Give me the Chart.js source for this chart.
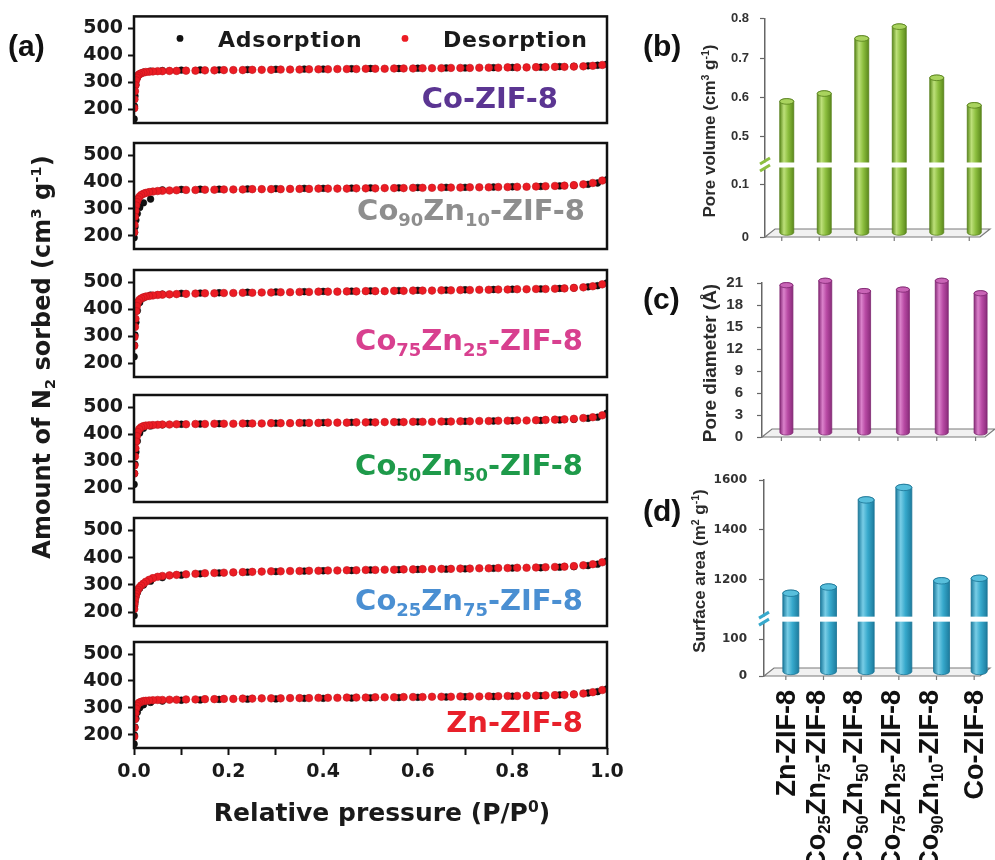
<!DOCTYPE html>
<html>
<head>
<meta charset="utf-8">
<script src="https://cdn.jsdelivr.net/npm/chart.js@4.4.1/dist/chart.umd.min.js"></script>
<style>
  html, body { margin: 0; padding: 0; background: #fff; }
  #wrap { position: relative; width: 995px; height: 860px; overflow: hidden; background: #fff; }
  #wrap canvas { position: absolute; left: 0; top: 0; }
</style>
</head>
<body>
<div id="wrap"></div>
<script>
const W = 995, H = 860;

// ---- isotherms: relative pressure grids ----
const pDes = [
  0.99, 0.97, 0.95, 0.93, 0.91, 0.89, 0.87, 0.85, 0.83, 0.81,
  0.79, 0.77, 0.75, 0.73, 0.71, 0.69, 0.67, 0.65, 0.63, 0.61,
  0.59, 0.57, 0.55, 0.53, 0.51, 0.49, 0.47, 0.45, 0.43, 0.41,
  0.39, 0.37, 0.35, 0.33, 0.31, 0.29, 0.27, 0.25, 0.23, 0.21,
  0.19, 0.17, 0.15, 0.13, 0.11, 0.09, 0.075, 0.06, 0.05, 0.04,
  0.032, 0.025, 0.02, 0.015, 0.011, 0.008, 0.006, 0.0045, 0.003, 0.002,
  0.001, 0.0005
];
const pAds = [
  0.0003, 0.001, 0.002, 0.004, 0.007, 0.012, 0.02, 0.035, 0.06, 0.1,
  0.14, 0.18, 0.24, 0.3, 0.36, 0.4, 0.46, 0.5, 0.56, 0.6,
  0.66, 0.7, 0.76, 0.8, 0.86, 0.9, 0.93, 0.96, 0.98, 1.0
];

// desorption branches (cm3/g), same order as pDes
const desCo = [
  365, 362, 360, 359, 358, 358, 357, 357, 356, 356,
  356, 355, 355, 355, 354, 354, 354, 353, 353, 353,
  352, 352, 352, 351, 351, 351, 350, 350, 350, 349,
  349, 349, 348, 348, 348, 347, 347, 347, 346, 346,
  346, 345, 345, 344, 344, 343, 343, 342, 342, 341,
  340, 339, 337, 334, 330, 325, 318, 308, 290, 268,
  238, 205
];
const desCo90 = [
  405, 396, 391, 388, 386, 385, 384, 383, 382, 382,
  381, 381, 380, 380, 380, 379, 379, 379, 378, 378,
  378, 377, 377, 377, 376, 376, 376, 375, 375, 375,
  375, 374, 374, 374, 373, 373, 373, 373, 372, 372,
  372, 371, 371, 370, 370, 369, 368, 367, 366, 364,
  362, 359, 356, 351, 344, 335, 325, 312, 292, 270,
  240, 212
];
const desCo75 = [
  492, 485, 481, 479, 477, 476, 475, 475, 474, 474,
  473, 473, 472, 472, 471, 471, 470, 470, 469, 469,
  469, 468, 468, 467, 467, 467, 466, 466, 465, 465,
  465, 464, 464, 463, 463, 462, 462, 461, 461, 460,
  460, 459, 459, 458, 457, 456, 455, 454, 453, 451,
  449, 447, 444, 440, 434, 425, 412, 393, 365, 335,
  298, 265
];
const desCo50 = [
  470, 463, 460, 457, 455, 454, 453, 452, 451, 451,
  450, 450, 449, 449, 448, 448, 447, 447, 446, 446,
  446, 445, 445, 445, 444, 444, 444, 443, 443, 443,
  442, 442, 442, 441, 441, 441, 440, 440, 440, 439,
  439, 439, 438, 438, 437, 437, 436, 436, 435, 434,
  433, 432, 430, 426, 419, 408, 393, 373, 348, 318,
  285, 255
];
const desCo25 = [
  383, 376, 372, 369, 367, 366, 365, 364, 363, 363,
  362, 362, 361, 361, 360, 360, 359, 359, 358, 358,
  357, 357, 356, 356, 355, 355, 354, 354, 353, 353,
  352, 352, 351, 351, 350, 350, 349, 348, 347, 346,
  345, 344, 343, 341, 339, 337, 335, 333, 330, 325,
  319, 312, 305, 298, 290, 282, 275, 267, 257, 246,
  230, 212
];
const desZn = [
  366, 358, 353, 350, 348, 347, 346, 345, 345, 344,
  344, 343, 343, 342, 342, 342, 341, 341, 341, 340,
  340, 340, 339, 339, 339, 338, 338, 338, 337, 337,
  337, 336, 336, 336, 335, 335, 335, 334, 334, 333,
  333, 332, 332, 331, 331, 330, 330, 329, 329, 328,
  327, 326, 325, 322, 319, 314, 307, 297, 280, 257,
  225, 192
];

// adsorption branches, same order as pAds
const adsCo = [
  165, 212, 250, 292, 318, 332, 338, 342, 344, 346,
  347, 347, 348, 349, 350, 350, 351, 352, 352, 353,
  354, 354, 355, 356, 357, 359, 360, 362, 364, 368
];
const adsCo90 = [
  192, 212, 232, 258, 282, 305, 322, 336, 370, 372,
  373, 373, 374, 375, 376, 376, 377, 378, 378, 379,
  380, 380, 381, 382, 383, 385, 387, 391, 396, 408
];
const adsCo75 = [
  225, 268, 305, 352, 395, 425, 442, 452, 456, 459,
  460, 461, 463, 464, 465, 466, 467, 468, 469, 470,
  471, 472, 473, 474, 475, 477, 479, 483, 487, 497
];
const adsCo50 = [
  215, 255, 290, 335, 375, 405, 422, 431, 435, 437,
  438, 439, 440, 441, 442, 443, 444, 445, 445, 446,
  447, 448, 449, 450, 451, 453, 455, 459, 463, 478
];
const adsCo25 = [
  188, 222, 238, 256, 272, 288, 300, 314, 327, 336,
  341, 344, 347, 349, 351, 352, 353, 355, 356, 357,
  358, 359, 361, 362, 363, 365, 367, 371, 376, 388
];
const adsZn = [
  165, 198, 228, 260, 283, 300, 311, 320, 325, 328,
  329, 331, 332, 333, 335, 335, 336, 337, 338, 339,
  340, 341, 342, 343, 345, 348, 350, 355, 360, 370
];

const sampleNames = ['Co-ZIF-8', 'Co90Zn10-ZIF-8', 'Co75Zn25-ZIF-8', 'Co50Zn50-ZIF-8', 'Co25Zn75-ZIF-8', 'Zn-ZIF-8'];
const isoDes = [desCo, desCo90, desCo75, desCo50, desCo25, desZn];
const isoAds = [adsCo, adsCo90, adsCo75, adsCo50, adsCo25, adsZn];
const isoYTicks = [200, 300, 400, 500];
const isoXTicks = [0, 0.1, 0.2, 0.3, 0.4, 0.5, 0.6, 0.7, 0.8, 0.9, 1.0];

// ---- textural properties ----
const categories = ['Zn-ZIF-8', 'Co25Zn75-ZIF-8', 'Co50Zn50-ZIF-8', 'Co75Zn25-ZIF-8', 'Co90Zn10-ZIF-8', 'Co-ZIF-8'];
const poreVolume = [0.59, 0.61, 0.75, 0.78, 0.65, 0.58];
const poreDiameter = [20.7, 21.3, 19.9, 20.1, 21.3, 19.6];
const surfaceArea = [1145, 1170, 1520, 1570, 1195, 1205];
const volumeTicks = [0, 0.1, 0.5, 0.6, 0.7, 0.8];
const diameterTicks = [0, 3, 6, 9, 12, 15, 18, 21];
const areaTicks = [0, 100, 1200, 1400, 1600];

// ---- look ----
const DEJAVU = '"DejaVu Sans"';
const ARIAL = '"Liberation Sans"';
const RED = '#ec1c24';
const labelColors = ['#5b3592', '#8e8e8e', '#d8408f', '#1e9a4a', '#4a8fd2', '#e8202a'];
const boxes = [[15, 123], [143, 249], [270, 377], [395, 502], [518, 626], [642, 748]];
const labelSpots = [[49, 15], [22, 29], [24, 27], [24, 27], [24, 16], [24, 16]]; // [from right, above bottom]
const BOX_L = 134, BOX_R = 607, Y_AXIS_W = 60, X_AXIS_H = 40;

Chart.defaults.animation = false;
Chart.defaults.responsive = false;
Chart.defaults.devicePixelRatio = 1;
Chart.defaults.events = [];
Chart.defaults.plugins.legend.display = false;
Chart.defaults.plugins.tooltip.enabled = false;

const wrap = document.getElementById('wrap');
function makeCanvas(id) {
  const c = document.createElement('canvas');
  c.id = id; c.width = W; c.height = H;
  wrap.appendChild(c);
  return c;
}

// "Co90Zn10-ZIF-8" -> Co, 90(sub), Zn, 10(sub), -ZIF-8
function chem(s) {
  const parts = [];
  s.split(/(?<=[A-Za-z])(\d+)/).forEach((t, i) => { if (t) parts.push([t, i % 2 ? 'sub' : null]); });
  return parts;
}

// text with sub/superscripts, y is the baseline
function drawRich(ctx, parts, x, y, o) {
  const font = s => `${o.weight || 'normal'} ${s}px ${o.family}`;
  ctx.save();
  ctx.translate(x, y);
  if (o.rotate) ctx.rotate(o.rotate);
  ctx.fillStyle = o.color || '#111';
  ctx.textBaseline = 'alphabetic';
  ctx.textAlign = 'left';
  ctx.letterSpacing = (o.spacing || 0) + 'px';
  const runs = parts.map(([t, k]) => {
    const size = k ? o.size * 0.62 : o.size;
    ctx.font = font(size);
    return { t, size, dy: k === 'sub' ? o.size * 0.2 : k === 'sup' ? -o.size * 0.38 : 0, w: ctx.measureText(t).width };
  });
  const total = runs.reduce((s, r) => s + r.w, 0);
  let cx = o.align === 'right' ? -total : o.align === 'center' ? -total / 2 : 0;
  runs.forEach(r => { ctx.font = font(r.size); ctx.fillText(r.t, cx, r.dy); cx += r.w; });
  ctx.restore();
}

// box, sample name and (top box only) the legend
const framePlugin = {
  id: 'frame',
  afterDraw(chart, args, o) {
    const { ctx, chartArea: a } = chart;
    ctx.save();
    ctx.lineWidth = 2.5;
    ctx.strokeStyle = '#111';
    ctx.strokeRect(a.left, a.top, a.right - a.left, a.bottom - a.top);
    ctx.restore();
    drawRich(ctx, chem(o.name), a.right - o.spot[0], a.bottom - o.spot[1],
      { size: 29, family: DEJAVU, weight: 'bold', color: o.color, align: 'right' });
    if (o.legend) {
      const items = [['Adsorption', '#111', 46], ['Desorption', RED, 271]];
      items.forEach(([text, color, dx]) => {
        ctx.save();
        ctx.fillStyle = color;
        ctx.beginPath();
        ctx.arc(a.left + dx, a.top + 22, 3.4, 0, Math.PI * 2);
        ctx.fill();
        ctx.restore();
        drawRich(ctx, [[text]], a.left + dx + 38, a.top + 31,
          { size: 22, family: DEJAVU, weight: 'bold', color: '#1a1a1a', spacing: 0.8 });
      });
    }
  }
};

// shared titles of panel (a)
const isoTitlesPlugin = {
  id: 'isoTitles',
  afterDraw(chart) {
    const ctx = chart.ctx;
    drawRich(ctx, [['(a)']], 8, 56, { size: 30, family: ARIAL, weight: 'bold', color: '#111' });
    drawRich(ctx, [['Amount of N'], ['2', 'sub'], [' sorbed (cm'], ['3', 'sup'], [' g'], ['-1', 'sup'], [')']],
      50, 357, { size: 24, family: DEJAVU, weight: 'bold', color: '#1a1a1a', align: 'center', rotate: -Math.PI / 2 });
    drawRich(ctx, [['Relative pressure (P/P'], ['0', 'sup'], [')']],
      382, 821, { size: 25, family: DEJAVU, weight: 'bold', color: '#1a1a1a', align: 'center' });
  }
};

sampleNames.forEach((name, i) => {
  const last = i === sampleNames.length - 1;
  const [top, bottom] = boxes[i];
  new Chart(makeCanvas('iso' + i), {
    type: 'scatter',
    data: {
      datasets: [
        {
          label: 'Desorption', order: 0,
          data: pDes.map((p, j) => ({ x: p, y: isoDes[i][j] })),
          pointRadius: 3.8, backgroundColor: RED, borderColor: '#c0161c', borderWidth: 0.6
        },
        {
          label: 'Adsorption', order: 1,
          data: pAds.map((p, j) => ({ x: p, y: isoAds[i][j] })),
          pointRadius: 3.4, backgroundColor: '#111', borderColor: '#000', borderWidth: 0.5
        }
      ]
    },
    options: {
      layout: { padding: { left: BOX_L - Y_AXIS_W, right: W - BOX_R, top: top, bottom: H - bottom - (last ? X_AXIS_H : 0) } },
      scales: {
        x: {
          type: 'linear', min: 0, max: 1, display: last,
          afterFit: last ? s => { s.height = X_AXIS_H; } : undefined,
          afterBuildTicks: s => { s.ticks = isoXTicks.map(v => ({ value: v })); },
          ticks: {
            autoSkip: false, maxRotation: 0, padding: 6, color: '#1a1a1a',
            font: { family: DEJAVU, size: 19, weight: 'bold' },
            callback: (v, idx) => idx % 2 ? '' : v.toFixed(1)
          },
          grid: { drawOnChartArea: false, tickLength: 7, tickWidth: 2, tickColor: '#111' },
          border: { display: false }
        },
        y: {
          min: 150, max: 545,
          afterFit: s => { s.width = Y_AXIS_W; },
          afterBuildTicks: s => { s.ticks = isoYTicks.map(v => ({ value: v })); },
          ticks: { padding: 5, color: '#1a1a1a', font: { family: DEJAVU, size: 19, weight: 'bold' } },
          grid: { drawOnChartArea: false, tickLength: 6, tickWidth: 2, tickColor: '#111' },
          border: { display: false }
        }
      },
      plugins: {
        frame: { name, color: labelColors[i], spot: labelSpots[i], legend: i === 0 }
      }
    },
    plugins: last ? [framePlugin, isoTitlesPlugin] : [framePlugin]
  });
});

// linear axis cut between lowTop and highBottom; values above `split`
// follow the upper segment, values below it the lower one
class BrokenLinearScale extends Chart.LinearScale {
  static id = 'brokenLinear';
  getPixelForValue(value) {
    const { lowTop, highBottom, lowFrac, highFrac, split } = this.options;
    if (lowTop === undefined || value === null) return super.getPixelForValue(value);
    const f = value < split
      ? value / lowTop * lowFrac
      : highFrac + (value - highBottom) / (this.max - highBottom) * (1 - highFrac);
    return this.getPixelForDecimal(f);
  }
}
Chart.register(BrokenLinearScale);

const FLOOR_DX = 10, FLOOR_DY = 8;

function drawCylinder(ctx, cx, top, bottom, w, c) {
  const rx = w / 2, ry = Math.max(2.5, w * 0.2);
  const g = ctx.createLinearGradient(cx - rx, 0, cx + rx, 0);
  g.addColorStop(0, c.dark);
  g.addColorStop(0.3, c.light);
  g.addColorStop(0.6, c.mid);
  g.addColorStop(1, c.dark);
  ctx.save();
  ctx.fillStyle = g;
  ctx.strokeStyle = c.edge;
  ctx.lineWidth = 0.8;
  ctx.beginPath();
  ctx.moveTo(cx - rx, top);
  ctx.lineTo(cx - rx, bottom);
  ctx.ellipse(cx, bottom, rx, ry, 0, Math.PI, 0, true);
  ctx.lineTo(cx + rx, top);
  ctx.ellipse(cx, top, rx, ry, 0, 0, Math.PI, true);
  ctx.closePath();
  ctx.fill();
  ctx.stroke();
  ctx.beginPath();
  ctx.ellipse(cx, top, rx, ry, 0, 0, Math.PI * 2);
  ctx.fillStyle = c.top;
  ctx.fill();
  ctx.stroke();
  ctx.restore();
}

const cylinderPlugin = {
  id: 'cylinders',
  beforeDatasetsDraw(chart, args, o) {
    const { ctx, chartArea: a } = chart;
    const y0 = chart.scales.y.getPixelForValue(0);
    ctx.save();
    ctx.beginPath();
    ctx.moveTo(a.left, y0);
    ctx.lineTo(a.right - FLOOR_DX, y0);
    ctx.lineTo(a.right, y0 - FLOOR_DY);
    ctx.lineTo(a.left + FLOOR_DX, y0 - FLOOR_DY);
    ctx.closePath();
    ctx.fillStyle = '#f1f1f1';
    ctx.fill();
    ctx.strokeStyle = '#7a7a7a';
    ctx.lineWidth = 1.2;
    ctx.stroke();
    ctx.beginPath();
    chart.getDatasetMeta(0).data.forEach(el => {
      const tx = el.x + o.shift - FLOOR_DX / 2;
      ctx.moveTo(tx, y0);
      ctx.lineTo(tx, y0 + 4);
    });
    ctx.stroke();
    ctx.restore();
  },
  afterDatasetsDraw(chart, args, o) {
    const { ctx, chartArea: a } = chart;
    chart.getDatasetMeta(0).data.forEach(el => {
      drawCylinder(ctx, el.x + o.shift, el.y, el.base - FLOOR_DY / 2, el.width, o.colors);
    });
    if (o.breakFrac !== undefined) {
      const by = a.bottom - o.breakFrac * (a.bottom - a.top);
      ctx.save();
      ctx.fillStyle = '#fff';
      ctx.fillRect(a.left - 3, by - 2.5, a.right - a.left + 6, 5);
      ctx.strokeStyle = o.colors.mid;
      ctx.lineWidth = 3;
      ctx.beginPath();
      ctx.moveTo(a.left - 5, by - 1); ctx.lineTo(a.left + 5, by - 7);
      ctx.moveTo(a.left - 5, by + 6); ctx.lineTo(a.left + 5, by);
      ctx.stroke();
      ctx.restore();
    }
  },
  afterDraw(chart, args, o) {
    const ctx = chart.ctx;
    drawRich(ctx, [[o.panel]], 643, o.panelY, { size: 30, family: ARIAL, weight: 'bold', color: '#111' });
    drawRich(ctx, o.title, o.titleX, o.titleY,
      { size: o.titleSize, family: ARIAL, weight: 'bold', color: '#2a2a2a', align: 'center', rotate: -Math.PI / 2 });
    if (o.categoryLabels) {
      chart.getDatasetMeta(0).data.forEach((el, i) => {
        const parts = chem(categories[i]);
        const tick = el.x + o.shift - FLOOR_DX / 2;
        const tx = tick + 10 - (parts.length > 1 ? 9 : 1);
        drawRich(ctx, parts, tx, 690, { size: 27, family: ARIAL, weight: 'bold', color: '#111', align: 'right', rotate: -Math.PI / 2 });
      });
    }
  }
};

function barChart(id, values, o) {
  new Chart(makeCanvas(id), {
    type: 'bar',
    data: {
      labels: categories,
      datasets: [{ data: values, backgroundColor: 'rgba(0,0,0,0)', borderWidth: 0, barThickness: o.barW }]
    },
    options: {
      layout: { padding: { left: o.left - 60, right: W - o.right, top: o.top, bottom: H - o.bottom } },
      scales: {
        x: { display: false },
        y: Object.assign({
          type: 'brokenLinear', min: 0, max: o.max,
          afterFit: s => { s.width = 60; },
          afterBuildTicks: s => { s.ticks = o.ticks.map(v => ({ value: v })); },
          ticks: { padding: o.tickPad, color: '#333', font: o.tickFont, callback: v => String(v) },
          grid: { drawOnChartArea: false, tickLength: 5, tickWidth: 1.2, tickColor: '#666' },
          border: { color: '#666', width: 1.5 }
        }, o.gap || {})
      },
      plugins: {
        cylinders: {
          shift: o.shift, colors: o.colors, breakFrac: o.breakFrac,
          panel: o.panel, panelY: o.panelY, title: o.title, titleX: o.titleX, titleY: o.titleY,
          titleSize: o.titleSize, categoryLabels: o.categoryLabels
        }
      }
    },
    plugins: [cylinderPlugin]
  });
}

barChart('volume', poreVolume, {
  left: 765, right: 990, top: 15, bottom: 237, max: 0.8, ticks: volumeTicks,
  gap: { lowTop: 0.1, highBottom: 0.5, lowFrac: 0.239, highFrac: 0.459, split: 0.3 }, breakFrac: 0.33,
  barW: 14, shift: 3, tickPad: 11, tickFont: { family: ARIAL, size: 13, weight: 'bold' },
  colors: { dark: '#5c8a1c', mid: '#8dbf3f', light: '#bde07a', top: '#a9d35e', edge: '#557f1a' },
  panel: '(b)', panelY: 56,
  title: [['Pore volume (cm'], ['3', 'sup'], [' g'], ['-1', 'sup'], [')']], titleX: 715, titleY: 131, titleSize: 17
});

barChart('diameter', poreDiameter, {
  left: 762, right: 995, top: 283, bottom: 437, max: 21, ticks: diameterTicks,
  barW: 13, shift: 5, tickPad: 14, tickFont: { family: ARIAL, size: 15, weight: 'bold' },
  colors: { dark: '#8a2c7b', mid: '#b84aa4', light: '#db82cb', top: '#c964b6', edge: '#7e2670' },
  panel: '(c)', panelY: 309,
  title: [['Pore diameter (Å)']], titleX: 716, titleY: 363, titleSize: 19
});

barChart('area', surfaceArea, {
  left: 764, right: 990, top: 480, bottom: 676, max: 1600, ticks: areaTicks,
  gap: { lowTop: 100, highBottom: 1200, lowFrac: 0.188, highFrac: 0.492, split: 600 }, breakFrac: 0.29,
  barW: 16, shift: 8, tickPad: 12, tickFont: { family: DEJAVU, size: 12, weight: 'bold' },
  colors: { dark: '#1d7c9e', mid: '#37a9cc', light: '#78cde6', top: '#58bfdc', edge: '#1b7394' },
  panel: '(d)', panelY: 521,
  title: [['Surface area (m'], ['2', 'sup'], [' g'], ['-1', 'sup'], [')']], titleX: 705, titleY: 571, titleSize: 17,
  categoryLabels: true
});
</script>
</body>
</html>
